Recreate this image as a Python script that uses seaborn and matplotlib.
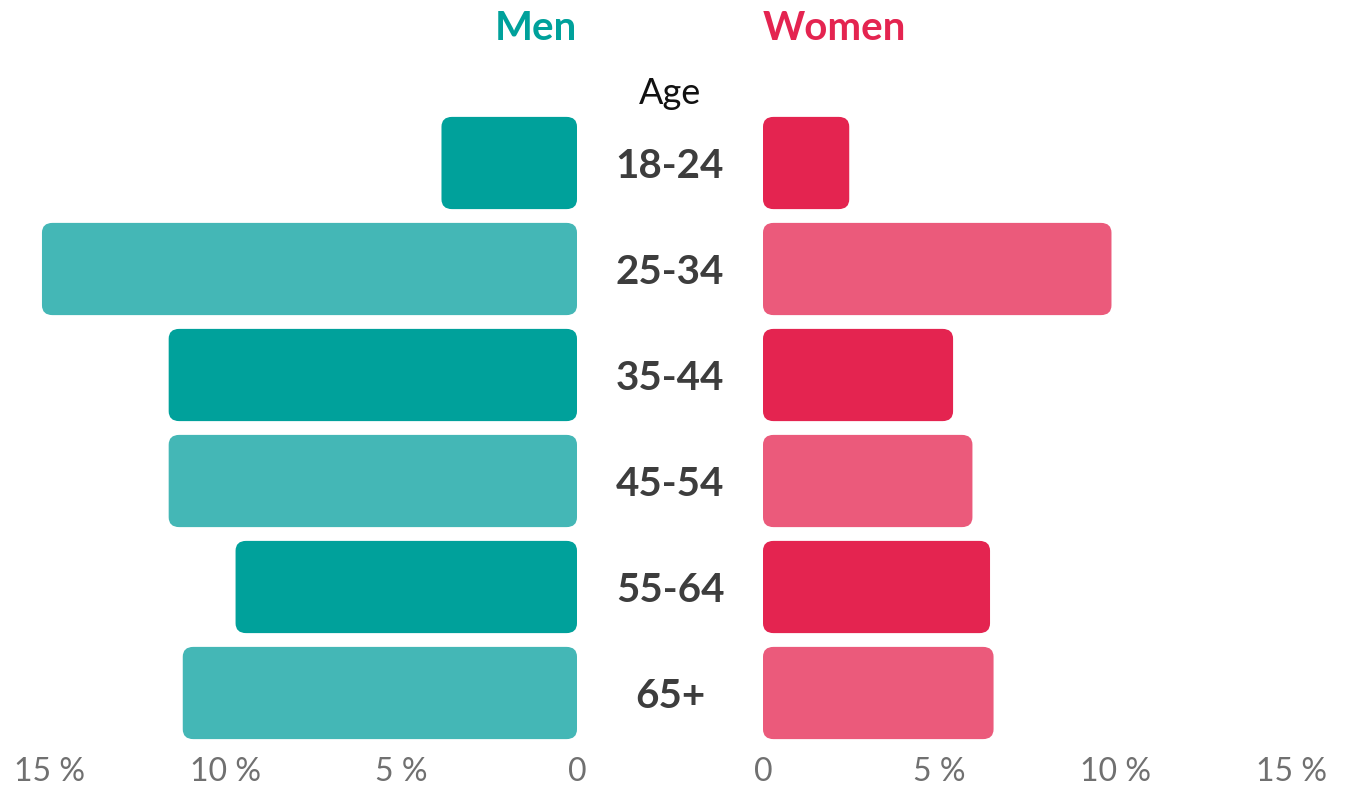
import numpy as np
import pandas as pd
import seaborn as sns
import matplotlib.pyplot as plt
from matplotlib.patches import FancyBboxPatch
from matplotlib.transforms import blended_transform_factory

ages = ["18-24", "25-34", "35-44", "45-54", "55-64", "65+"]
men = [3.85, 15.2, 11.6, 11.6, 9.7, 11.2]
women = [2.45, 9.9, 5.4, 5.95, 6.45, 6.55]
ticks = [0, 5, 10, 15]
tick_labels = ["0", "5 %", "10 %", "15 %"]

men_cols = ["#00A19B", "#44B7B6"] * 3
women_cols = ["#E42450", "#EB5A7B"] * 3

sns.set_theme(style="white")
plt.rcParams["font.family"] = ["Lato", "DejaVu Sans"]

W, H = 1349, 787
fig = plt.figure(figsize=(W / 100, H / 100), dpi=100)
top, bot = 110, 746
axL = fig.add_axes([20 / W, 1 - bot / H, (577 - 20) / W, (bot - top) / H])
axR = fig.add_axes([763 / W, 1 - bot / H, (1330 - 763) / W, (bot - top) / H])

df = pd.DataFrame({"age": ages, "men": men, "women": women})
sns.barplot(data=df, x="men", y="age", hue="age", palette=men_cols, saturation=1,
            orient="h", width=0.87, legend=False, ax=axL)
sns.barplot(data=df, x="women", y="age", hue="age", palette=women_cols, saturation=1,
            orient="h", width=0.87, legend=False, ax=axR)

axL.set_xlim((577 - 20) / 35.2, 0)
axR.set_xlim(0, (1330 - 763) / 35.2)

# rounded bar corners
for ax in (axL, axR):
    for p in list(ax.patches):
        x0, y0 = p.get_x(), p.get_y()
        w, h = p.get_width(), p.get_height()
        fb = FancyBboxPatch((x0, y0), w, h,
                            boxstyle="round,pad=0,rounding_size=0.3",
                            mutation_aspect=0.31,
                            fc=p.get_facecolor(), ec="none")
        p.remove()
        ax.add_patch(fb)
    ax.set_ylim(5.5, -0.5)
    ax.set_xticks(ticks)
    ax.set_xticklabels(tick_labels)
    ax.tick_params(axis="x", length=0, pad=8, labelsize=23, labelcolor="#707070")
    ax.set_yticks([])
    ax.set_xlabel("")
    ax.set_ylabel("")
    for s in ax.spines.values():
        s.set_visible(False)

tr = blended_transform_factory(fig.transFigure, axL.transData)
for i, a in enumerate(ages):
    fig.text(670 / W, i + 0.03, a, transform=tr, ha="center", va="center",
             fontsize=29, fontweight="bold", color="#3d3d3d")

fig.text(670 / W, 1 - 93 / H, "Age", ha="center", va="center", fontsize=26, color="#111111")
fig.text(577 / W, 1 - 28 / H, "Men", ha="right", va="center", fontsize=29,
         fontweight="bold", color="#00A19B")
fig.text(763 / W, 1 - 28 / H, "Women", ha="left", va="center", fontsize=29,
         fontweight="bold", color="#E42450")

fig.savefig("out.png", dpi=100)
